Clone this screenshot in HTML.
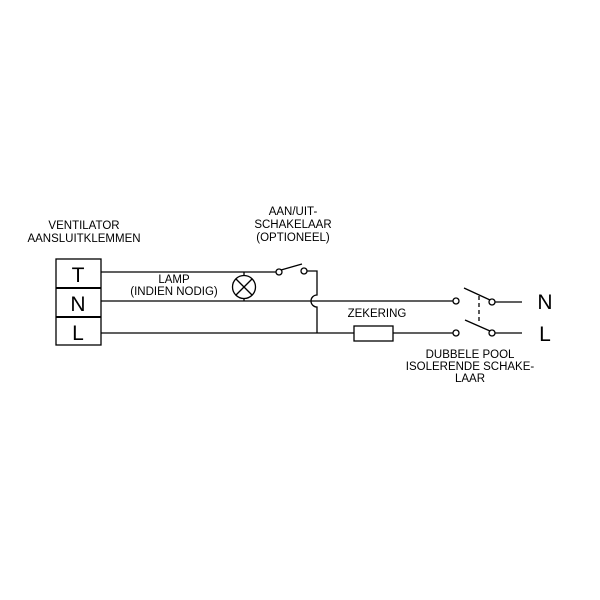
<!DOCTYPE html>
<html><head><style>body{margin:0;background:#fff}svg{display:block}text{font-family:"Liberation Sans",Arial,sans-serif;fill:#000}</style></head>
<body>
<svg width="600" height="600" viewBox="0 0 600 600" xmlns="http://www.w3.org/2000/svg">
<g stroke="#000" stroke-width="1.3" fill="none">
<rect x="56" y="259" width="45" height="86"/>
<line x1="56" y1="288" x2="101" y2="288" stroke-width="2"/>
<line x1="56" y1="317" x2="101" y2="317" stroke-width="2"/>
<line x1="101" y1="272" x2="276" y2="272"/>
<line x1="101" y1="301" x2="453" y2="301"/>
<line x1="101" y1="333" x2="354" y2="333"/>
<line x1="393" y1="333" x2="453" y2="333"/>
<rect x="354" y="326" width="39" height="15"/>
<line x1="244" y1="272" x2="244" y2="301"/>
<circle cx="244" cy="287" r="11.5" fill="#fff"/>
<line x1="236" y1="279" x2="252" y2="295"/>
<line x1="252" y1="279" x2="236" y2="295"/>
<circle cx="279" cy="272" r="3"/>
<circle cx="304" cy="271" r="3"/>
<line x1="281" y1="270" x2="302" y2="264"/>
<path d="M307 271 H317 V295 A6 6 0 0 0 317 307 V333"/>
<circle cx="456" cy="301" r="3"/>
<circle cx="456" cy="333" r="3"/>
<line x1="464" y1="288" x2="490" y2="300"/>
<line x1="465" y1="320" x2="490" y2="331"/>
<circle cx="492" cy="302" r="3"/>
<circle cx="492" cy="333" r="3"/>
<line x1="495" y1="302" x2="522" y2="302"/>
<line x1="495" y1="333" x2="522" y2="333"/>
<line x1="479" y1="296" x2="479" y2="322" stroke-dasharray="4,3"/>
</g>
<g font-size="11.5" text-anchor="middle">
<text x="84" y="229">VENTILATOR</text>
<text x="84" y="242">AANSLUITKLEMMEN</text>
<text x="293" y="215">AAN/UIT-</text>
<text x="293" y="228">SCHAKELAAR</text>
<text x="293" y="241">(OPTIONEEL)</text>
<text x="174" y="283">LAMP</text>
<text x="174" y="295">(INDIEN NODIG)</text>
<text x="377" y="317">ZEKERING</text>
<text x="470" y="358">DUBBELE POOL</text>
<text x="470" y="370">ISOLERENDE SCHAKE-</text>
<text x="470" y="382">LAAR</text>
</g>
<g font-size="21" text-anchor="middle">
<text x="78" y="282">T</text>
<text x="78" y="311">N</text>
<text x="78" y="340">L</text>
<text x="545" y="309">N</text>
<text x="545" y="341">L</text>
</g>
</svg>
</body></html>
